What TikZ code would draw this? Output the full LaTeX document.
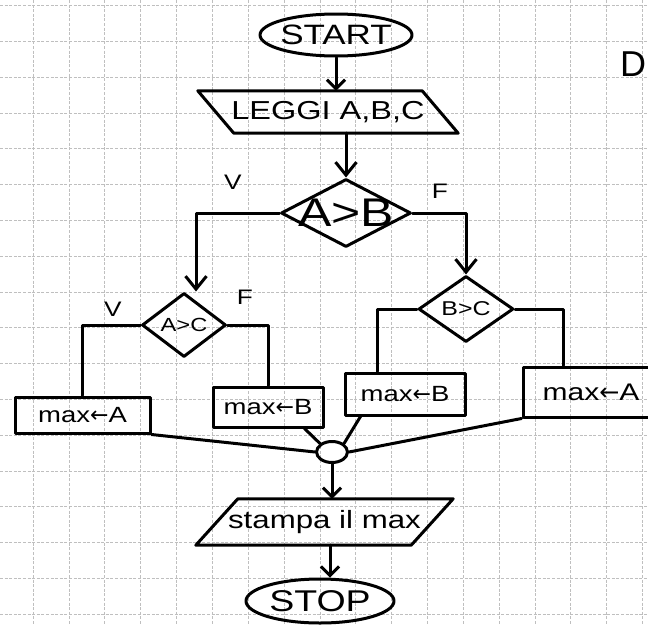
\documentclass[tikz,border=0pt]{standalone}
\usepackage{fontspec}
\setmainfont{Liberation Sans}[FakeStretch=1.25]
\newfontfamily\plainfont{Liberation Sans}
\newfontfamily\arrowfont{DejaVu Sans}
\usetikzlibrary{shapes.geometric,arrows.meta}
\newcommand{\larr}{{\arrowfont ←}}
\begin{document}
\begin{tikzpicture}[x=1pt,y=-1pt,
  ink/.style={line width=3pt,line cap=round,line join=round},
  gridline/.style={line width=0.7pt,black!25,dash pattern=on 3pt off 1.6pt},
  txt/.style={font=\fontsize{#1}{#1}\selectfont,inner sep=0pt},
  terminal/.style={ink,draw,ellipse,inner sep=0pt},
  decision/.style={ink,draw,diamond,inner sep=0pt},
  process/.style={ink,draw,rectangle,inner sep=0pt},
  flow/.style={ink,-{Straight Barb[length=9pt,width=18pt]}},
  bigflow/.style={ink,-{Straight Barb[length=13pt,width=21pt]}},
  branch/.style={ink}
]
\useasboundingbox (0,0) rectangle (648,624);
\fill[white] (0,0) rectangle (648,624);

% squared paper
\foreach \i in {0,...,18}
  \draw[gridline] ({-2.8+35.85*\i},0) -- ({-2.8+35.85*\i},624);
\foreach \j in {0,...,17}
  \draw[gridline] (0,{5.5+35.8*\j}) -- (648,{5.5+35.8*\j});

% start / stop
\node[terminal,minimum width=152pt,minimum height=42pt] (start) at (336,35) {};
\node[txt=28] (startt) at (start) {START};
\node[terminal,minimum width=148pt,minimum height=44pt] (stop) at (320,601) {};
\node[txt=30] (stopt) at (stop) {STOP};

% input
\node[txt=26,minimum width=224pt,minimum height=42pt] (leggi) at (328,112) {LEGGI A,B,C};
\draw[ink] ([xshift=-18pt]leggi.north west) -- ([xshift=-18pt]leggi.north east)
  -- ([xshift=18pt]leggi.south east) -- ([xshift=18pt]leggi.south west) -- cycle;

% decisions
\node[decision,minimum width=130pt,minimum height=68pt] (ab) at (346,213) {};
\node[txt=40] (abt) at (ab) {A>B};
\node[decision,minimum width=84pt,minimum height=64pt] (ac) at (184,325) {};
\node[txt=19] (act) at (ac) {A>C};
\node[decision,minimum width=95pt,minimum height=66pt] (bc) at (466,309) {};
\node[txt=20] (bct) at (bc) {B>C};

% assignments
\node[process,txt=22,minimum width=135pt,minimum height=36pt] (maxA1) at (82.5,415) {max\larr A};
\node[process,txt=22,minimum width=110pt,minimum height=40pt] (maxB1) at (268,407) {max\larr B};
\node[process,txt=22,minimum width=120pt,minimum height=42pt] (maxB2) at (405,394) {max\larr B};
\node[process,txt=24,minimum width=136pt,minimum height=50pt] (maxA2) at (591,392) {max\larr A};

% junction
\node[ink,draw,ellipse,minimum width=31pt,minimum height=21pt,inner sep=0pt] (junc) at (332,452) {};

% output
\node[txt=25,minimum width=215pt,minimum height=46pt] (stampa) at (324.5,522) {stampa il max};
\draw[ink] ([xshift=21pt]stampa.north west) -- ([xshift=21pt]stampa.north east)
  -- ([xshift=-21pt]stampa.south east) -- ([xshift=-21pt]stampa.south west) -- cycle;

% branch labels
\node[txt=21] (lv1) at (233,182) {V};
\node[txt=21] (lf1) at (440,191) {F};
\node[txt=21] (lv2) at (113,309) {V};
\node[txt=21] (lf2) at (245,297) {F};
\node[font=\plainfont\fontsize{36}{36}\selectfont,inner sep=0pt] (dmark) at (633,64) {D};

% main flow
\draw[flow] (start.south) -- (start.south |- leggi.north);
\draw[bigflow] (ab.north |- leggi.south) -- (ab.north);
\draw[bigflow] (ab.west) -| ([xshift=12pt]ac.north);
\draw[bigflow] (ab.east) -| (bc.north);

\draw[branch] (ac.west) -| (maxA1.north);
\draw[branch] (ac.east) -| (maxB1.north);
\draw[branch] (bc.west) -| ([xshift=-28pt]maxB2.north);
\draw[branch] (bc.east) -| ([xshift=-28pt]maxA2.north);

\draw[branch] (maxA1.south east) -- (junc.west);
\draw[branch] ([xshift=-20pt]maxB1.south east) -- (junc.north west);
\draw[branch] ([xshift=17pt]maxB2.south west) -- (junc.north east);
\draw[branch] (maxA2.south west) -- (junc.east);

\draw[flow] (junc.south) -- (junc.south |- stampa.north);
\draw[flow] ([xshift=10pt]stop.north |- stampa.south) -- ([xshift=10pt]stop.north);
\end{tikzpicture}
\end{document}
